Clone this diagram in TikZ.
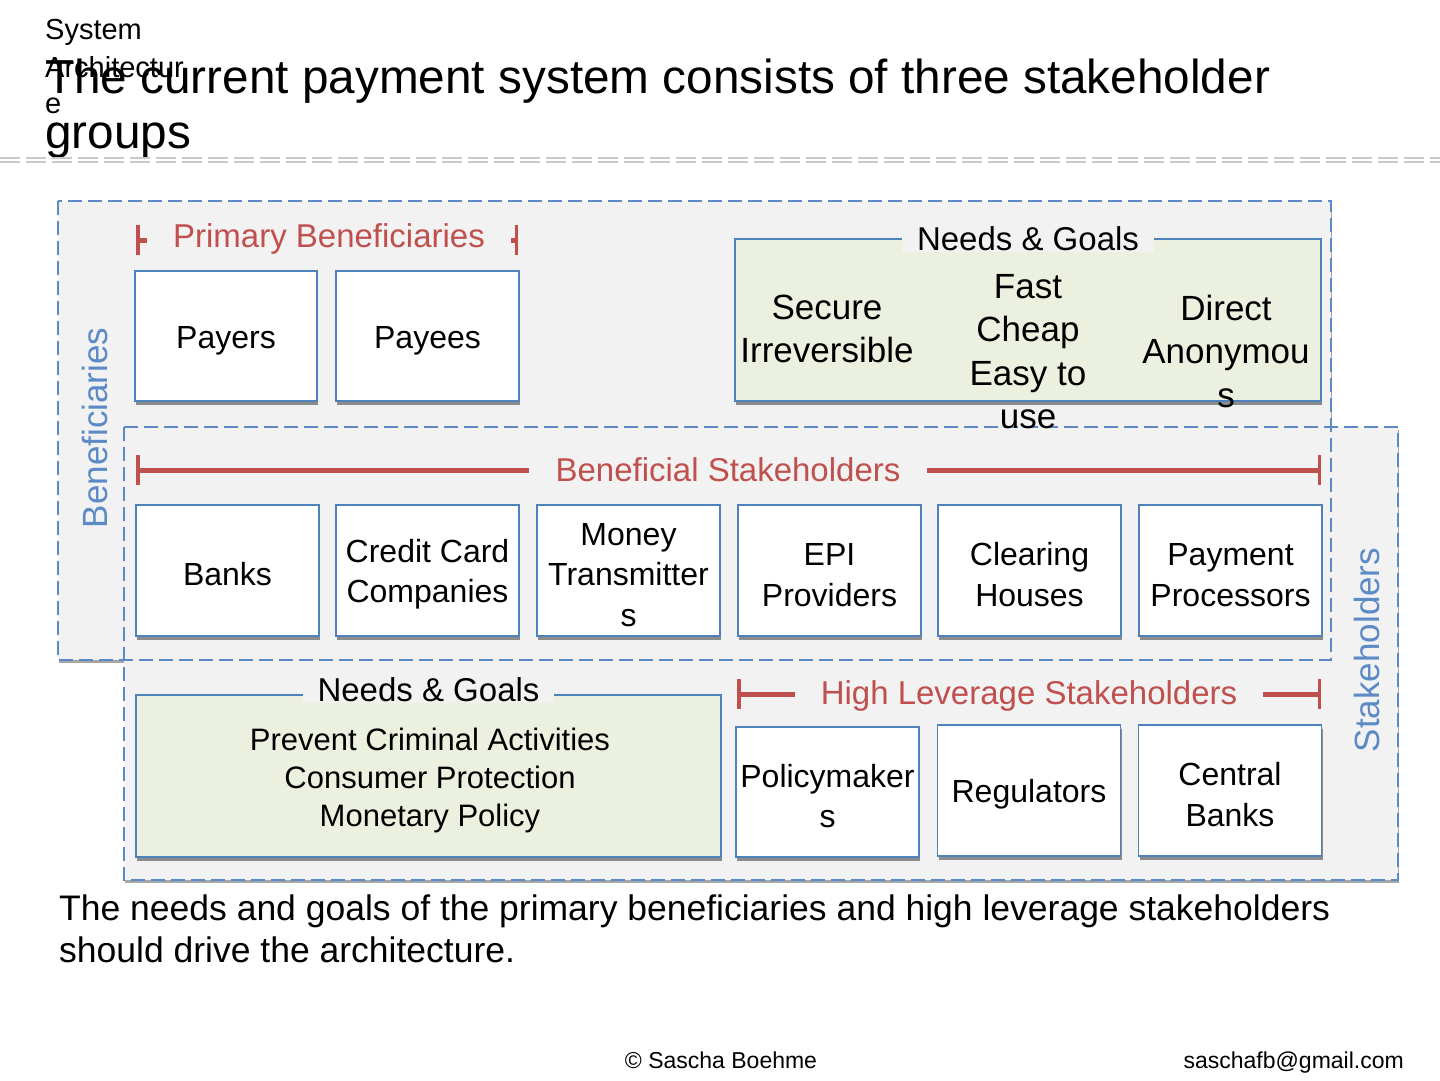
\documentclass[tikz,border=0pt]{standalone}
\usepackage{fontspec}
\setmainfont{Liberation Sans}
\usetikzlibrary{shadows,arrows.meta}
\definecolor{bblue}{HTML}{4F81BD}
\definecolor{rblue}{HTML}{5B8AC6}
\definecolor{bred}{HTML}{C0504D}
\definecolor{bgray}{HTML}{F2F2F2}
\definecolor{bgreen}{HTML}{EBF1DE}
\definecolor{lgray}{HTML}{C8C8C8}
\newcommand\myfs[2]{\fontsize{#1}{#2}\selectfont}
\newcommand\entup{\rule{0pt}{31pt}}
\begin{document}
\begin{tikzpicture}[x=1pt,y=-1pt,
  region/.style={fill=bgray, draw=none, inner sep=0pt, outer sep=0pt,
    drop shadow={shadow xshift=1pt, shadow yshift=-3pt, fill=black!35, opacity=1}},
  regborder/.style={draw=rblue, line width=1.8pt, dash pattern=on 14pt off 6pt},
  ent/.style={draw=bblue, line width=1.6pt, fill=white, minimum width=183pt,
    minimum height=131pt, inner sep=1pt, align=center, font=\myfs{32}{40.5},
    drop shadow={shadow xshift=1pt, shadow yshift=-3.5pt, fill=black!45, opacity=1}},
  goalbox/.style={draw=bblue, line width=1.6pt, fill=bgreen, inner sep=0pt,
    drop shadow={shadow xshift=1pt, shadow yshift=-3.5pt, fill=black!45, opacity=1}},
  nglabel/.style={fill=bgray, font=\myfs{33}{40}, inner xsep=15pt, inner ysep=2pt},
  goaltext/.style={align=center, font=\myfs{35}{43.5}, inner sep=0pt},
  brtext/.style={text=bred, font=\myfs{33}{40}, inner xsep=26pt, inner ysep=0pt, anchor=base},
  brline/.style={draw=bred, line width=5pt, {Bar[width=30pt, line width=3.5pt]}-},
  vlabel/.style={text=rblue, font=\myfs{35}{40}, rotate=90},
  plain/.style={inner sep=0pt},
]
\useasboundingbox (0,0) rectangle (1440,1080);

% header
\node[plain, anchor=base west, font=\myfs{29}{37}] (h1) at (45,39) {System};
\node[plain, anchor=base west, font=\myfs{29}{37}] (h2) at (45,77) {Architectur};
\node[plain, anchor=base west, font=\myfs{29}{37}] (h3) at (45,113) {e};
\node[plain, anchor=base west, font=\myfs{47.7}{55}] (t1) at (45,93) {The current payment system consists of three stakeholder};
\node[plain, anchor=base west, font=\myfs{47.7}{55}] (t2) at (45,148) {groups};
\draw[lgray, line width=1.5pt, dash pattern=on 20pt off 6pt] (0,158) -- (1440,158);
\draw[lgray, line width=1.5pt, dash pattern=on 20pt off 6pt] (0,162) -- (1440,162);

% regions
\node[region, minimum width=1273pt, minimum height=459pt] (benef) at (694.5,430.5) {};
\node[region, minimum width=1274pt, minimum height=453pt] (stake) at (761,653.5) {};
\draw[regborder] (benef.north west) rectangle (benef.south east);
\draw[regborder] (stake.north west) rectangle (stake.south east);
\node[vlabel] (benefL) at (95,428) {Beneficiaries};
\node[vlabel] (stakeL) at (1367,650) {Stakeholders};

% primary beneficiaries
\coordinate (pbL) at (136,240);
\coordinate (pbR) at (518,240);
\node[brtext] (pbT) at (329,247) {Primary Beneficiaries};
\draw[brline] (pbL) -- (pbT.west |- pbL);
\draw[brline] (pbR) -- (pbT.east |- pbR);
\node[ent, minimum width=182pt, minimum height=130pt] (payers) at (226,336) {\entup Payers};
\node[ent, minimum height=130pt] (payees) at (427.5,336) {\entup Payees};

% top needs & goals
\node[goalbox, minimum width=586pt, minimum height=162pt] (ngTop) at (1028,320) {};
\node[nglabel] (ngTopL) at (ngTop.north) {Needs \& Goals};
\node[goaltext] (g1) at (827,329) {Secure\\Irreversible};
\node[goaltext] (g2) at (1028,351.5) {Fast\\Cheap\\Easy to\\use};
\node[goaltext] (g3) at (1226,351) {Direct\\Anonymou\\s};

% beneficial stakeholders
\coordinate (bsL) at (136,470);
\coordinate (bsR) at (1321,470);
\node[brtext] (bsT) at (728,481) {Beneficial Stakeholders};
\draw[brline] (bsL) -- (bsT.west |- bsL);
\draw[brline] (bsR) -- (bsT.east |- bsR);
\node[ent] (banks) at (227.5,570.5) {\entup Banks};
\node[ent] (ccc) at (427.5,570.5) {\entup Credit Card\\Companies};
\node[ent] (money) at (628.5,570.5) {\entup Money\\Transmitter\\s};
\node[ent] (epi) at (829.5,570.5) {\entup EPI\\Providers};
\node[ent] (clear) at (1029.5,570.5) {\entup Clearing\\Houses};
\node[ent] (proc) at (1230.5,570.5) {\entup Payment\\Processors};

% bottom needs & goals
\node[goalbox, minimum width=585pt, minimum height=162pt] (ngBot) at (428.5,776) {};
\node[nglabel] (ngBotL) at ([yshift=5pt]ngBot.north) {Needs \& Goals};
\node[align=center, font=\myfs{31}{38}, inner sep=0pt] (g4) at (430,780) {Prevent Criminal Activities\\Consumer Protection\\Monetary Policy};

% high leverage stakeholders
\coordinate (hlL) at (737,694);
\coordinate (hlR) at (1321,694);
\node[brtext] (hlT) at (1029,704) {High Leverage Stakeholders};
\draw[brline] (hlL) -- (hlT.west |- hlL);
\draw[brline] (hlR) -- (hlT.east |- hlR);
\node[ent, minimum height=130pt] (policy) at (827.5,792) {\entup Policymaker\\s};
\node[ent] (reg) at (1029,790.5) {\entup Regulators};
\node[ent] (cb) at (1230,790.5) {\entup Central\\Banks};

% bottom text
\node[plain, anchor=base west, font=\myfs{35.5}{42}] (b1) at (59,920) {The needs and goals of the primary beneficiaries and high leverage stakeholders};
\node[plain, anchor=base west, font=\myfs{35.5}{42}] (b2) at (59,962) {should drive the architecture.};

% footer
\node[plain, anchor=base, font=\myfs{23}{28}] (f1) at (721,1068) {© Sascha Boehme};
\node[plain, anchor=base east, font=\myfs{23}{28}] (f2) at (1404,1068) {saschafb@gmail.com};
\end{tikzpicture}
\end{document}
